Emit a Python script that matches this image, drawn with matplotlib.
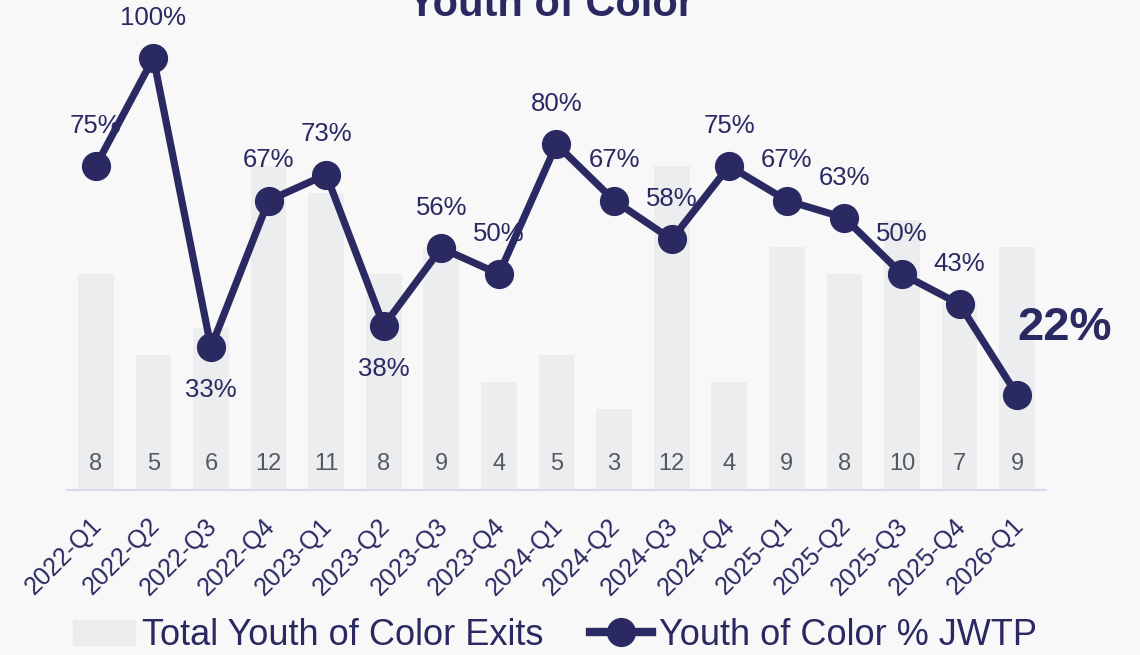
import matplotlib.pyplot as plt
import matplotlib.transforms as mtransforms
from matplotlib.lines import Line2D
from matplotlib.patches import Patch

quarters = ["2022-Q1", "2022-Q2", "2022-Q3", "2022-Q4", "2023-Q1", "2023-Q2", "2023-Q3",
            "2023-Q4", "2024-Q1", "2024-Q2", "2024-Q3", "2024-Q4", "2025-Q1", "2025-Q2",
            "2025-Q3", "2025-Q4", "2026-Q1"]
total_exits = [8, 5, 6, 12, 11, 8, 9, 4, 5, 3, 12, 4, 9, 8, 10, 7, 9]
pct_jwtp = [75, 100, 33, 67, 73, 38, 56, 50, 80, 67, 58, 75, 67, 63, 50, 43, 22]

NAVY = "#2a2962"
BAR = "#ecedef"
BG = "#f8f8f8"

plt.rcParams['font.family'] = ['Liberation Sans', 'DejaVu Sans']

fig = plt.figure(figsize=(11.4, 6.55), dpi=100, facecolor=BG)
ax = fig.add_axes([0.0588, 0.2519, 0.8587, 0.6596])
ax.set_facecolor(BG)
x = list(range(len(quarters)))

# bars: total exits, counts written near the base
ax.bar(x, total_exits, width=0.62, color=BAR, zorder=1)
for xi, v in zip(x, total_exits):
    ax.annotate(str(v), (xi, 0), xytext=(0, 19), textcoords="offset points",
                ha="center", va="center", fontsize=17, color="#555a60")
ax.set_ylim(0, 16)
ax.set_xlim(-0.5, len(quarters) - 0.5)
ax.set_yticks([])
for s in ["top", "right", "left"]:
    ax.spines[s].set_visible(False)
ax.spines["bottom"].set_color("#d9d8ee")
ax.spines["bottom"].set_linewidth(1.5)
ax.set_xticks(x)
ax.set_xticklabels(quarters, rotation=45, ha="right", rotation_mode="anchor",
                   fontsize=18, color=NAVY)
ax.tick_params(axis="x", length=0, pad=17)
shift = mtransforms.ScaledTranslation(-6 / 100, 0, fig.dpi_scale_trans)
for lbl in ax.get_xticklabels():
    lbl.set_transform(lbl.get_transform() + shift)

# line: percentage on its own scale
ax2 = ax.twinx()
ax2.set_ylim(0, 100)
ax2.set_yticks([])
for s in ax2.spines.values():
    s.set_visible(False)
ax2.plot(x, pct_jwtp, color=NAVY, lw=5.2, marker="o", markersize=20,
         clip_on=False, zorder=3)

below = {2, 5}
for i, (xi, v) in enumerate(zip(x[:-1], pct_jwtp[:-1])):
    dy = -31 if i in below else 29
    ax2.annotate(f"{v}%", (xi, v), xytext=(0, dy), textcoords="offset points",
                 ha="center", va="center", fontsize=18.5, color=NAVY)
ax2.annotate(f"{pct_jwtp[-1]}%", (x[-1], pct_jwtp[-1]), xytext=(34, 48),
             textcoords="offset points", ha="center", va="center",
             fontsize=34, fontweight="bold", color=NAVY)

fig.text(0.483, 0.976, "Youth of Color", ha="center", va="baseline",
         fontsize=30, fontweight="bold", color=NAVY)

handles = [Patch(color=BAR),
           Line2D([], [], color=NAVY, lw=6, marker="o", markersize=20)]
fig.legend(handles, ["Total Youth of Color Exits", "Youth of Color % JWTP"],
           loc="center", bbox_to_anchor=(0.487, 0.03), ncol=2, frameon=False,
           fontsize=26, labelcolor=NAVY, handlelength=1.7, handletextpad=0.2,
           columnspacing=1.3)

fig.savefig("out.png", dpi=100, facecolor=BG)
